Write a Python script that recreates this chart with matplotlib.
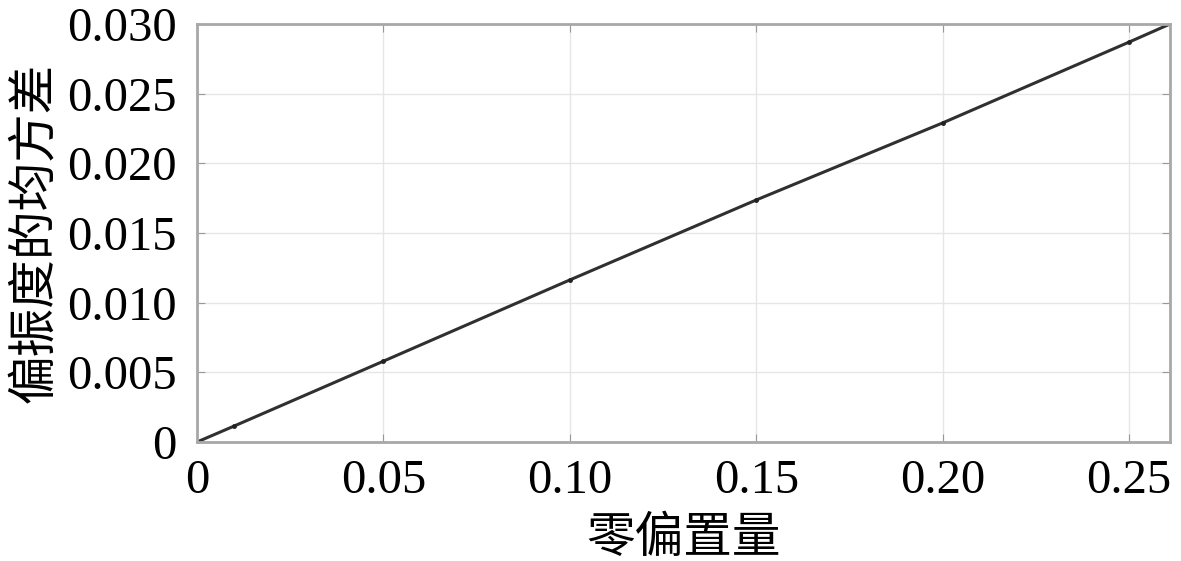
import matplotlib
matplotlib.use("Agg")
import matplotlib.pyplot as plt
import numpy as np

# 零偏置量 vs 偏振度的均方差
x = [0, 0.01, 0.05, 0.10, 0.15, 0.20, 0.25, 0.261]
y = [0, 0.00115, 0.0058, 0.01163, 0.01737, 0.0229, 0.0287, 0.030]
mark_x = x[1:-1]
mark_y = y[1:-1]

xticks = [0, 0.05, 0.10, 0.15, 0.20, 0.25]
xticklabels = ['0', '0.05', '0.10', '0.15', '0.20', '0.25']
yticks = [0, 0.005, 0.010, 0.015, 0.020, 0.025, 0.030]
yticklabels = ['0', '0.005', '0.010', '0.015', '0.020', '0.025', '0.030']

fonts = ['Liberation Serif', 'Noto Sans CJK SC', 'DejaVu Sans']
plt.rcParams['font.family'] = fonts

fig = plt.figure(figsize=(11.81, 5.61), dpi=100)
ax = fig.add_axes([0.1668, 0.2121, 0.8239, 0.7451])

ax.plot(x, y, color='#303030', lw=2.2)
ax.plot(mark_x, mark_y, 'o', color='#222222', ms=2.5)

ax.set_xlim(0, 0.261)
ax.set_ylim(0, 0.030)
ax.set_xticks(xticks)
ax.set_xticklabels(xticklabels)
ax.set_yticks(yticks)
ax.set_yticklabels(yticklabels)
ax.tick_params(direction='in', top=True, right=True, length=6, color='#999999',
               labelsize=35)
ax.tick_params(axis='y', pad=14.5)
ax.tick_params(axis='x', pad=12.5)
ax.grid(True, color='#e6e6e6', lw=1)
for s in ax.spines.values():
    s.set_color('#a8a8a8')
    s.set_linewidth(2)

ax.set_xlabel('零偏置量', fontsize=35, family=['Noto Sans CJK SC'], labelpad=7)
ax.set_ylabel('偏振度的均方差', fontsize=35, family=['Noto Sans CJK SC'], labelpad=6)

fig.savefig('out.png', dpi=100)
